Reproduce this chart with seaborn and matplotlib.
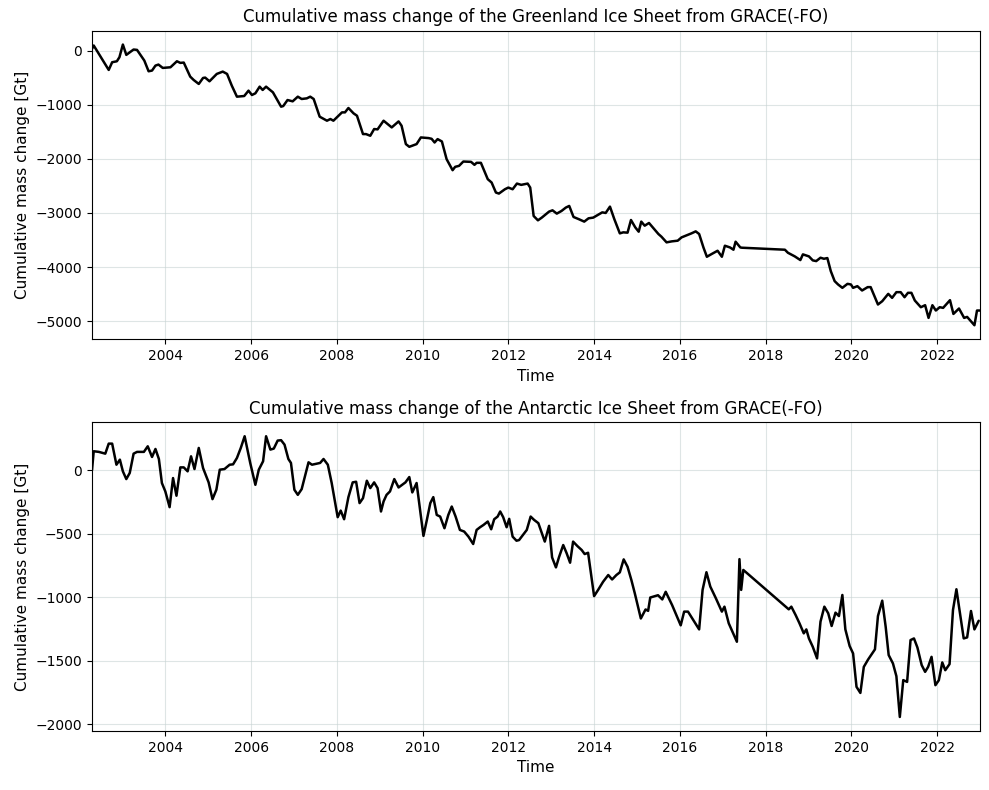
import numpy as np
import pandas as pd
import seaborn as sns
import matplotlib
matplotlib.use('Agg')
import matplotlib.pyplot as plt

# Greenland, decimal year / Gt
gis_time = [2002.29, 2002.33, 2002.68, 2002.76, 2002.87, 2002.93, 2003.01, 2003.09, 2003.26, 2003.34,
            2003.51, 2003.61, 2003.69, 2003.77, 2003.84, 2003.94, 2004.12, 2004.27, 2004.35, 2004.43,
            2004.58, 2004.66, 2004.78, 2004.88, 2004.93, 2005.03, 2005.20, 2005.34, 2005.44, 2005.55,
            2005.67, 2005.84, 2005.94, 2006.02, 2006.10, 2006.20, 2006.27, 2006.35, 2006.51, 2006.70,
            2006.75, 2006.85, 2006.97, 2007.09, 2007.18, 2007.30, 2007.38, 2007.46, 2007.60, 2007.77,
            2007.85, 2007.92, 2008.12, 2008.19, 2008.27, 2008.39, 2008.47, 2008.61, 2008.68, 2008.78,
            2008.87, 2008.95, 2009.09, 2009.28, 2009.44, 2009.51, 2009.61, 2009.69, 2009.86, 2009.96,
            2010.14, 2010.21, 2010.28, 2010.35, 2010.45, 2010.56, 2010.70, 2010.76, 2010.85, 2010.95,
            2011.13, 2011.21, 2011.26, 2011.36, 2011.52, 2011.61, 2011.71, 2011.78, 2011.92, 2012.00,
            2012.10, 2012.20, 2012.30, 2012.45, 2012.51, 2012.59, 2012.69, 2012.78, 2012.95, 2013.03,
            2013.13, 2013.24, 2013.34, 2013.42, 2013.52, 2013.65, 2013.77, 2013.87, 2013.98, 2014.10,
            2014.19, 2014.27, 2014.37, 2014.47, 2014.60, 2014.68, 2014.78, 2014.86, 2014.96, 2015.04,
            2015.10, 2015.18, 2015.28, 2015.38, 2015.50, 2015.57, 2015.69, 2015.81, 2015.95, 2016.04,
            2016.18, 2016.27, 2016.37, 2016.45, 2016.55, 2016.63, 2016.74, 2016.88, 2016.98, 2017.05,
            2017.17, 2017.25, 2017.30, 2017.41, 2017.45, 2018.45, 2018.52, 2018.68, 2018.81, 2018.87,
            2019.01, 2019.10, 2019.18, 2019.28, 2019.36, 2019.44, 2019.52, 2019.61, 2019.69, 2019.79,
            2019.91, 2019.99, 2020.04, 2020.14, 2020.25, 2020.38, 2020.45, 2020.62, 2020.72, 2020.86,
            2020.95, 2021.05, 2021.15, 2021.24, 2021.32, 2021.40, 2021.48, 2021.62, 2021.72, 2021.80,
            2021.89, 2021.97, 2022.06, 2022.14, 2022.30, 2022.38, 2022.51, 2022.63, 2022.70, 2022.87,
            2022.93, 2023.00]
gis_mass = [30, 93, -358, -216, -198, -123, 111, -80, 19, 12,
            -185, -383, -370, -278, -259, -321, -309, -198, -228, -222,
            -481, -543, -617, -506, -500, -568, -432, -389, -432, -648,
            -852, -840, -741, -821, -790, -667, -728, -667, -772, -1037,
            -1025, -914, -938, -852, -895, -883, -852, -895, -1222, -1296,
            -1265, -1296, -1142, -1142, -1061, -1160, -1204, -1543, -1543, -1574,
            -1450, -1456, -1296, -1420, -1309, -1389, -1728, -1778, -1728, -1605,
            -1617, -1630, -1698, -1636, -1679, -2006, -2210, -2148, -2130, -2050,
            -2056, -2111, -2074, -2074, -2376, -2438, -2623, -2642, -2562, -2531,
            -2562, -2457, -2481, -2457, -2531, -3056, -3136, -3086, -2975, -2951,
            -3012, -2963, -2901, -2870, -3074, -3117, -3160, -3099, -3086, -3031,
            -2989, -3000, -2883, -3111, -3377, -3358, -3364, -3130, -3266, -3346,
            -3160, -3235, -3185, -3278, -3389, -3438, -3543, -3525, -3512, -3451,
            -3407, -3377, -3340, -3389, -3637, -3809, -3759, -3698, -3809, -3605,
            -3637, -3679, -3531, -3637, -3642, -3679, -3735, -3802, -3870, -3765,
            -3802, -3876, -3889, -3827, -3846, -3833, -4074, -4259, -4321, -4383,
            -4309, -4321, -4383, -4352, -4432, -4370, -4370, -4691, -4630, -4494,
            -4568, -4463, -4463, -4556, -4475, -4475, -4617, -4741, -4704, -4938,
            -4704, -4802, -4741, -4753, -4611, -4865, -4765, -4938, -4920, -5074,
            -4802, -4802]

# Antarctica
ais_time = [2002.29, 2002.33, 2002.45, 2002.60, 2002.68, 2002.76, 2002.86, 2002.94, 2003.01, 2003.09,
            2003.17, 2003.26, 2003.34, 2003.50, 2003.59, 2003.69, 2003.77, 2003.85, 2003.92, 2004.00,
            2004.10, 2004.18, 2004.26, 2004.35, 2004.43, 2004.52, 2004.60, 2004.68, 2004.78, 2004.88,
            2005.01, 2005.10, 2005.19, 2005.27, 2005.38, 2005.50, 2005.58, 2005.67, 2005.76, 2005.85,
            2005.98, 2006.10, 2006.18, 2006.28, 2006.35, 2006.45, 2006.53, 2006.62, 2006.70, 2006.78,
            2006.87, 2006.93, 2007.01, 2007.09, 2007.18, 2007.34, 2007.42, 2007.53, 2007.61, 2007.69,
            2007.79, 2007.88, 2008.02, 2008.09, 2008.17, 2008.27, 2008.37, 2008.45, 2008.53, 2008.61,
            2008.70, 2008.78, 2008.87, 2008.95, 2009.03, 2009.09, 2009.16, 2009.24, 2009.34, 2009.44,
            2009.55, 2009.60, 2009.69, 2009.76, 2009.86, 2010.02, 2010.10, 2010.18, 2010.25, 2010.33,
            2010.41, 2010.51, 2010.60, 2010.68, 2010.77, 2010.87, 2010.97, 2011.07, 2011.18, 2011.26,
            2011.34, 2011.42, 2011.52, 2011.60, 2011.67, 2011.75, 2011.81, 2011.88, 2011.96, 2012.02,
            2012.10, 2012.19, 2012.25, 2012.43, 2012.52, 2012.60, 2012.70, 2012.85, 2012.95, 2013.02,
            2013.11, 2013.18, 2013.28, 2013.36, 2013.44, 2013.51, 2013.61, 2013.71, 2013.78, 2013.86,
            2014.00, 2014.09, 2014.21, 2014.33, 2014.42, 2014.52, 2014.60, 2014.69, 2014.78, 2014.87,
            2014.95, 2015.09, 2015.20, 2015.26, 2015.31, 2015.49, 2015.59, 2015.67, 2015.82, 2015.92,
            2016.02, 2016.10, 2016.19, 2016.45, 2016.53, 2016.62, 2016.71, 2016.84, 2016.98, 2017.04,
            2017.14, 2017.33, 2017.39, 2017.43, 2017.48, 2018.54, 2018.60, 2018.70, 2018.79, 2018.89,
            2018.95, 2019.01, 2019.10, 2019.20, 2019.28, 2019.37, 2019.46, 2019.54, 2019.63, 2019.71,
            2019.79, 2019.86, 2019.96, 2020.04, 2020.12, 2020.21, 2020.29, 2020.39, 2020.55, 2020.62,
            2020.72, 2020.80, 2020.87, 2020.97, 2021.05, 2021.13, 2021.21, 2021.30, 2021.38, 2021.46,
            2021.54, 2021.64, 2021.72, 2021.79, 2021.87, 2021.96, 2022.04, 2022.12, 2022.19, 2022.29,
            2022.37, 2022.45, 2022.54, 2022.62, 2022.70, 2022.79, 2022.87, 2022.97]
ais_mass = [0, 149, 144, 130, 209, 209, 43, 83, -9, -70,
            -22, 130, 144, 144, 188, 104, 167, 88, -101, -167,
            -291, -62, -201, 22, 22, -9, 109, 9, 175, 17,
            -96, -228, -154, 4, 9, 43, 46, 96, 175, 267,
            57, -115, 4, 70, 267, 162, 170, 233, 236, 201,
            88, 57, -154, -194, -149, 62, 43, 51, 57, 88,
            43, -101, -370, -318, -386, -212, -96, -91, -259, -220,
            -83, -141, -96, -141, -325, -246, -194, -167, -70, -136,
            -109, -96, -54, -175, -101, -517, -391, -259, -212, -352,
            -365, -457, -352, -286, -365, -470, -483, -523, -581, -470,
            -449, -431, -404, -465, -386, -365, -325, -370, -449, -383,
            -523, -555, -550, -470, -365, -391, -417, -562, -438, -686,
            -765, -686, -589, -654, -728, -562, -597, -628, -660, -650,
            -991, -944, -878, -825, -860, -825, -804, -702, -760, -865,
            -970, -1167, -1096, -1107, -1002, -984, -1017, -957, -1062, -1142,
            -1221, -1113, -1113, -1253, -942, -803, -916, -1008, -1113, -1074,
            -1205, -1350, -700, -942, -785, -1095, -1074, -1140, -1205, -1284,
            -1253, -1324, -1390, -1481, -1192, -1074, -1126, -1226, -1121, -1148,
            -982, -1253, -1384, -1442, -1705, -1753, -1548, -1490, -1410, -1148,
            -1027, -1232, -1455, -1521, -1621, -1942, -1652, -1666, -1337, -1324,
            -1395, -1534, -1587, -1548, -1469, -1692, -1653, -1513, -1574, -1526,
            -1100, -937, -1140, -1324, -1316, -1108, -1253, -1185]

titles = ['Cumulative mass change of the Greenland Ice Sheet from GRACE(-FO)',
          'Cumulative mass change of the Antarctic Ice Sheet from GRACE(-FO)']
year_ticks = list(range(2004, 2023, 2))

sns.set_style('ticks')
plt.rcParams['font.family'] = ['DejaVu Sans']
plt.rcParams.update({'text.color': 'black', 'axes.labelcolor': 'black',
                     'xtick.color': 'black', 'ytick.color': 'black'})

fig, axes = plt.subplots(2, 1, figsize=(9.89, 7.9), dpi=100)

series = [(gis_time, gis_mass), (ais_time, ais_mass)]
for ax, (t, m), title in zip(axes, series, titles):
    df = pd.DataFrame({'Time': t, 'mass': m})
    sns.lineplot(data=df, x='Time', y='mass', ax=ax, color='black', linewidth=1.8,
                 estimator=None, sort=False)
    ax.set_xlim(2002.29, 2023.0)
    ax.set_xticks(year_ticks)
    ax.set_xticklabels([str(y) for y in year_ticks])
    ax.grid(True, color='#c8d4d4', alpha=0.6, linewidth=0.8)
    ax.set_title(title, fontsize=12, color='black')
    ax.set_xlabel('Time', fontsize=11)
    ax.set_ylabel('Cumulative mass change [Gt]', fontsize=11)
    ax.tick_params(labelsize=10, colors='black')
    for s in ax.spines.values():
        s.set_visible(True)
        s.set_color('black')

axes[1].set_yticks([0, -500, -1000, -1500, -2000])

fig.subplots_adjust(left=92 / 989, right=980 / 989, top=1 - 30.5 / 790,
                    bottom=1 - 731 / 790, hspace=83 / 309)
plt.savefig('out.png', dpi=100)
